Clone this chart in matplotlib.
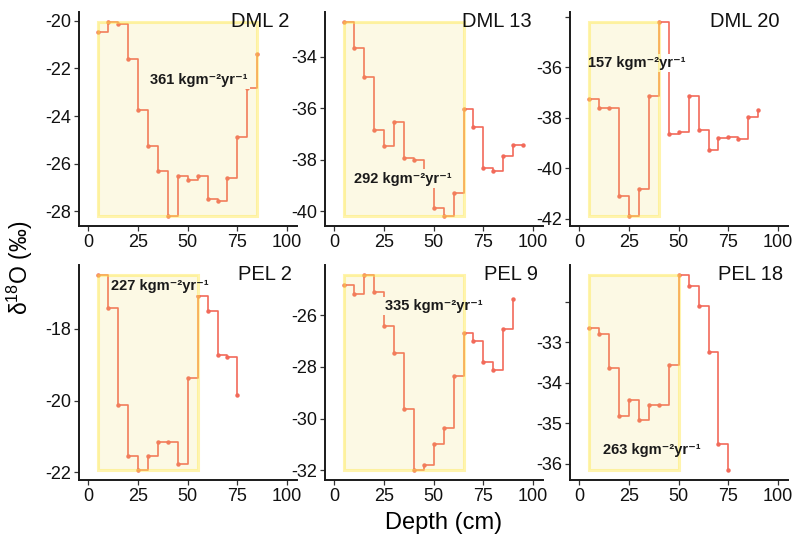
import matplotlib
matplotlib.use("Agg")
import matplotlib.pyplot as plt
from matplotlib.patches import Rectangle

plt.rcParams['font.family'] = ['Liberation Sans', 'DejaVu Sans']
plt.rcParams['mathtext.fontset'] = 'custom'
plt.rcParams['mathtext.rm'] = 'Liberation Sans'
plt.rcParams['mathtext.bf'] = 'Liberation Sans:bold'
plt.rcParams['mathtext.it'] = 'Liberation Sans:italic'

# ---------------- data ----------------
names = ["DML 2", "DML 13", "DML 20", "PEL 2", "PEL 9", "PEL 18"]

depth_dml2 = [5, 10, 15, 20, 25, 30, 35, 40, 45, 50, 55, 60, 65, 70, 75, 80, 85]
d18o_dml2 = [-20.49, -20.05, -20.13, -21.63, -23.74, -25.26, -26.29, -28.2, -26.5,
             -26.67, -26.52, -27.47, -27.58, -26.58, -24.87, -22.84, -21.42]

depth_dml13 = [5, 10, 15, 20, 25, 30, 35, 40, 45, 50, 55, 60, 65, 70, 75, 80, 85, 90, 95]
d18o_dml13 = [-32.65, -33.65, -34.79, -36.83, -37.45, -36.54, -37.93, -38.02, -38.95,
              -39.86, -40.19, -39.29, -36.05, -36.72, -38.32, -38.45, -37.85, -37.41, -37.41]

depth_dml20 = [5, 10, 15, 20, 25, 30, 35, 40, 45, 50, 55, 60, 65, 70, 75, 80, 85, 90]
d18o_dml20 = [-37.25, -37.6, -37.61, -41.11, -41.91, -40.82, -37.15, -34.2, -38.66,
              -38.58, -37.13, -38.49, -39.28, -38.82, -38.78, -38.86, -37.97, -37.71]

depth_pel2 = [5, 10, 15, 20, 25, 30, 35, 40, 45, 50, 55, 60, 65, 70, 75]
d18o_pel2 = [-16.49, -17.42, -20.12, -21.55, -21.94, -21.53, -21.14, -21.16, -21.77,
             -19.36, -17.07, -17.49, -18.73, -18.77, -19.84]

depth_pel9 = [5, 10, 15, 20, 25, 30, 35, 40, 45, 50, 55, 60, 65, 70, 75, 80, 85, 90]
d18o_pel9 = [-24.82, -25.2, -24.44, -25.1, -26.44, -27.48, -29.62, -32.0, -31.81,
             -30.97, -30.36, -28.37, -26.71, -27.0, -27.81, -28.13, -26.55, -25.38]

depth_pel18 = [5, 10, 15, 20, 25, 30, 35, 40, 45, 50, 55, 60, 65, 70, 75]
d18o_pel18 = [-32.65, -32.79, -33.63, -34.81, -34.43, -34.93, -34.56, -34.56, -33.57,
              -31.33, -31.61, -32.11, -33.25, -35.5, -36.16]

depths = [depth_dml2, depth_dml13, depth_dml20, depth_pel2, depth_pel9, depth_pel18]
values = [d18o_dml2, d18o_dml13, d18o_dml20, d18o_pel2, d18o_pel9, d18o_pel18]

# shaded accumulation window (start, end depth)
window_start = [5, 5, 5, 5, 5, 5]
window_end = [85, 65, 40, 55, 65, 50]

accum_labels = ["361", "292", "157", "227", "335", "263"]
accum_x = [55.6, 34.6, 28.7, 35.8, 50.1, 36.2]
accum_y = [-22.5, -38.73, -35.84, -16.8, -25.64, -35.65]

yticks_list = [
    [-28, -26, -24, -22, -20],
    [-40, -38, -36, -34],
    [-42, -40, -38, -36, -34],
    [-22, -20, -18],
    [-32, -30, -28, -26],
    [-36, -35, -34, -33, -32],
]
ytick_labels_list = [
    ["-28", "-26", "-24", "-22", "-20"],
    ["-40", "-38", "-36", "-34"],
    ["-42", "-40", "-38", "-36", ""],
    ["-22", "-20", "-18"],
    ["-32", "-30", "-28", "-26"],
    ["-36", "-35", "-34", "-33", ""],
]
xticks = [0, 25, 50, 75, 100]
title_x = [101, 99.1, 100.7, 102.4, 102.3, 102.5]

# ---------------- layout ----------------
W, H = 796, 539
fig = plt.figure(figsize=(W / 100, H / 100), dpi=100)

col_left = [78.5, 324.5, 569.5]
col_w = 218.5
rows = [(12, 226), (265, 480)]

line_col = '#F26A5A'
fill_col = '#F2DF60'
edge_col = '#FFE84A'

for i in range(6):
    r, c = divmod(i, 3)
    top, bot = rows[r]
    ax = fig.add_axes([col_left[c] / W, 1 - bot / H, col_w / W, (bot - top) / H])
    x = depths[i]
    y = values[i]
    ymin, ymax = min(y), max(y)
    pad = 0.05 * (ymax - ymin)
    ax.set_ylim(ymin - pad, ymax + pad)
    ax.set_xlim(-5, 105)

    ax.plot(x, y, drawstyle='steps-post', color=line_col, lw=1.2, zorder=2)
    ax.plot(x, y, 'o', color=line_col, ms=3.2, mec='none', zorder=2)

    label = accum_labels[i] + ' kgm\u207b\u00b2yr\u207b\u00b9'
    # white label box (under the shaded window)
    ax.text(accum_x[i], accum_y[i], label,
            ha='center', va='center', fontsize=10.5, fontweight='bold',
            color='none', zorder=2.5,
            bbox=dict(boxstyle='square,pad=0.15', facecolor='white', edgecolor='none'))

    rect = Rectangle((window_start[i], ymin), window_end[i] - window_start[i], ymax - ymin,
                     facecolor=fill_col, alpha=0.17, edgecolor='none', zorder=3)
    ax.add_patch(rect)
    border = Rectangle((window_start[i], ymin), window_end[i] - window_start[i], ymax - ymin,
                       facecolor='none', edgecolor=edge_col, lw=2.2, alpha=0.45, zorder=3)
    ax.add_patch(border)

    ax.text(accum_x[i], accum_y[i], label,
            ha='center', va='center', fontsize=10.5, fontweight='bold',
            color='#1a1a1a', zorder=4)

    ax.text(title_x[i], 1.0, names[i], transform=ax.get_xaxis_transform(),
            ha='right', va='top', fontsize=14.5, color='#111111', zorder=5)

    ax.set_xticks(xticks)
    ax.set_xticklabels([str(t) for t in xticks])
    ax.set_yticks(yticks_list[i])
    ax.set_yticklabels(ytick_labels_list[i])
    ax.tick_params(axis='both', labelsize=13, length=3.5, width=0.9,
                   color='#333333', labelcolor='#111111', pad=2)
    for s in ['top', 'right']:
        ax.spines[s].set_visible(False)
    for s in ['left', 'bottom']:
        ax.spines[s].set_linewidth(1.4)
        ax.spines[s].set_color('#1a1a1a')
    ax.set_facecolor('white')

fig.text(444 / W, 1 - 523 / H, 'Depth (cm)', ha='center', va='center', fontsize=17)
fig.text(20 / W, 1 - 268 / H, 'δ$^{18}$O (‰)', ha='center', va='center',
         rotation=90, fontsize=16.5)

fig.savefig('out.png', dpi=100, facecolor='white')
